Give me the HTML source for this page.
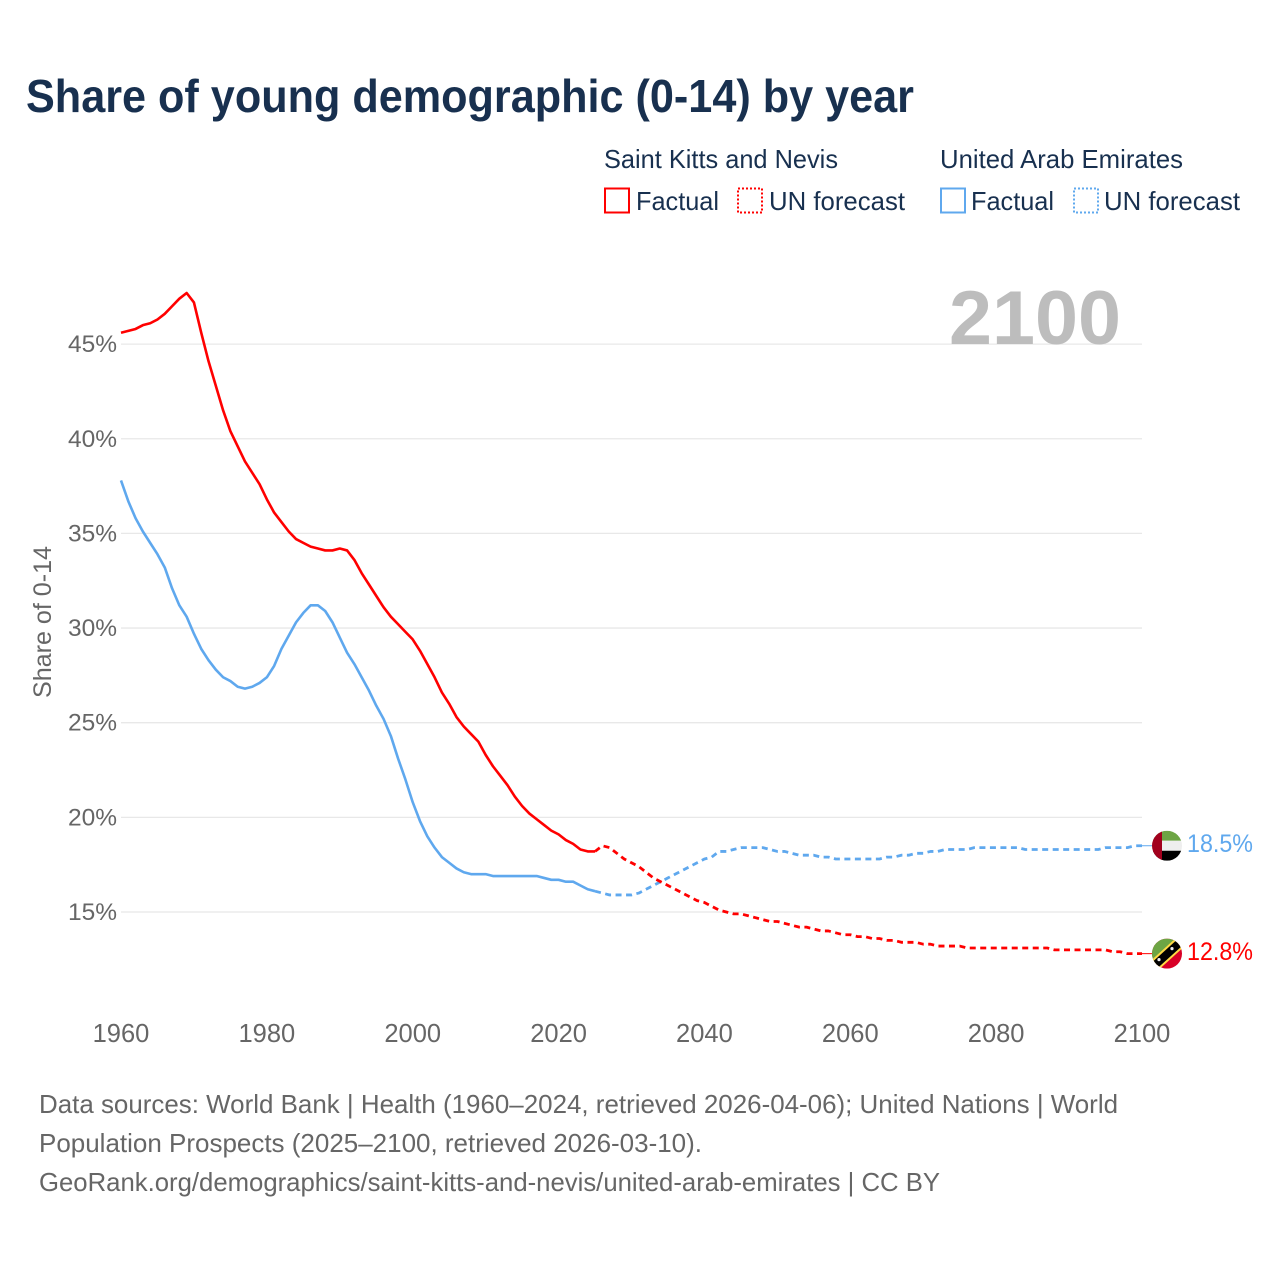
<!DOCTYPE html>
<html lang="en">
<head>
<meta charset="utf-8">
<title>Share of young demographic (0-14) by year</title>
<style>
html,body{margin:0;padding:0;background:#fff;}
svg{display:block;font-family:"Liberation Sans",sans-serif;}
</style>
</head>
<body>
<svg id="chart" width="1280" height="1280" viewBox="0 0 1280 1280" xmlns="http://www.w3.org/2000/svg">
  <defs>
    <clipPath id="flag-clip"><circle cx="0" cy="0" r="15"/></clipPath>
  </defs>
  <rect x="0" y="0" width="1280" height="1280" fill="#fff"/>
  <text x="26" y="112" font-size="46" font-weight="700" fill="#18304f" textLength="888" lengthAdjust="spacingAndGlyphs">Share of young demographic (0-14) by year</text>

  <g fill="#18304f" font-size="26">
    <text x="604" y="168" textLength="234" lengthAdjust="spacingAndGlyphs">Saint Kitts and Nevis</text>
    <text x="940" y="168" textLength="243" lengthAdjust="spacingAndGlyphs">United Arab Emirates</text>
    <rect x="605" y="188.5" width="24" height="24" fill="none" stroke="#ff0000" stroke-width="2"/>
    <text x="636" y="210" textLength="83" lengthAdjust="spacingAndGlyphs">Factual</text>
    <rect x="738" y="188.5" width="24" height="24" fill="none" stroke="#ff0000" stroke-width="2" stroke-dasharray="2 2"/>
    <text x="769" y="210" textLength="136" lengthAdjust="spacingAndGlyphs">UN forecast</text>
    <rect x="941" y="188.5" width="24" height="24" fill="none" stroke="#5fa8ee" stroke-width="2"/>
    <text x="971" y="210" textLength="83" lengthAdjust="spacingAndGlyphs">Factual</text>
    <rect x="1074" y="188.5" width="24" height="24" fill="none" stroke="#5fa8ee" stroke-width="2" stroke-dasharray="2 2"/>
    <text x="1104" y="210" textLength="136" lengthAdjust="spacingAndGlyphs">UN forecast</text>
  </g>

  <text transform="translate(51,622) rotate(-90)" text-anchor="middle" font-size="25" fill="#666" textLength="152" lengthAdjust="spacingAndGlyphs">Share of 0-14</text>

  <g id="grid"></g>
  <g id="y-ticks"></g>
  <g id="x-ticks"></g>

  <text x="949" y="344" font-size="76" font-weight="700" fill="#bdbdbd" textLength="172" lengthAdjust="spacingAndGlyphs">2100</text>

  <g id="series"></g>

  <g id="flag-uae">
    <g clip-path="url(#flag-clip)">
      <rect x="-15" y="-15" width="30" height="10" fill="#6da544"/>
      <rect x="-15" y="-5" width="30" height="10" fill="#eeeeee"/>
      <rect x="-15" y="5" width="30" height="10" fill="#000000"/>
      <rect x="-15" y="-15" width="10" height="30" fill="#a2001d"/>
    </g>
  </g>
  <g id="flag-kn">
    <g clip-path="url(#flag-clip)">
      <rect x="-15" y="-15" width="30" height="30" fill="#d80027"/>
      <polygon points="-15,-15 15,-15 -15,15" fill="#6da544"/>
      <line x1="-16" y1="15" x2="16" y2="-14" stroke="#ffda44" stroke-width="12"/>
      <line x1="-16" y1="15" x2="16" y2="-14" stroke="#000000" stroke-width="8"/>
      <circle cx="-8" cy="6" r="1.6" fill="#eee"/>
      <circle cx="5" cy="-5" r="1.6" fill="#eee"/>
    </g>
  </g>
  <text id="value-uae" x="1187" font-size="25" fill="#5fa8ee" textLength="66" lengthAdjust="spacingAndGlyphs"></text>
  <text id="value-kn" x="1187" font-size="25" fill="#ff0000" textLength="66" lengthAdjust="spacingAndGlyphs"></text>

  <g font-size="26" fill="#666">
    <text x="39" y="1113" textLength="1079" lengthAdjust="spacingAndGlyphs">Data sources: World Bank | Health (1960–2024, retrieved 2026-04-06); United Nations | World</text>
    <text x="39" y="1152" textLength="663" lengthAdjust="spacingAndGlyphs">Population Prospects (2025–2100, retrieved 2026-03-10).</text>
    <text x="39" y="1191" textLength="901" lengthAdjust="spacingAndGlyphs">GeoRank.org/demographics/saint-kitts-and-nevis/united-arab-emirates | CC BY</text>
  </g>
</svg>

<script>
const yTicks = [15, 20, 25, 30, 35, 40, 45];
const xTicks = [1960, 1980, 2000, 2020, 2040, 2060, 2080, 2100];
const factualStartYear = 1960;
const forecastStartYear = 2025;

const redFactual = [
  45.6,45.7,45.8,46.0,46.1,46.3,46.6,47.0,47.4,47.7,
  47.2,45.6,44.1,42.8,41.5,40.4,39.6,38.8,38.2,37.6,
  36.8,36.1,35.6,35.1,34.7,34.5,34.3,34.2,34.1,34.1,
  34.2,34.1,33.6,32.9,32.3,31.7,31.1,30.6,30.2,29.8,
  29.4,28.8,28.1,27.4,26.6,26.0,25.3,24.8,24.4,24.0,
  23.3,22.7,22.2,21.7,21.1,20.6,20.2,19.9,19.6,19.3,
  19.1,18.8,18.6,18.3,18.2,18.2
];
const redForecast = [
  18.2,18.5,18.4,18.1,17.8,
  17.6,17.4,17.1,16.8,16.6,16.4,16.2,16.0,15.8,15.6,
  15.5,15.3,15.1,15.0,14.9,14.9,14.8,14.7,14.6,14.5,
  14.5,14.4,14.3,14.2,14.2,14.1,14.0,14.0,13.9,13.8,
  13.8,13.7,13.7,13.6,13.6,13.5,13.5,13.4,13.4,13.4,
  13.3,13.3,13.2,13.2,13.2,13.2,13.1,13.1,13.1,13.1,
  13.1,13.1,13.1,13.1,13.1,13.1,13.1,13.1,13.0,13.0,
  13.0,13.0,13.0,13.0,13.0,13.0,12.9,12.9,12.8,12.8,
  12.8
];
const blueFactual = [
  37.8,36.7,35.8,35.1,34.5,33.9,33.2,32.1,31.2,30.6,
  29.7,28.9,28.3,27.8,27.4,27.2,26.9,26.8,26.9,27.1,
  27.4,28.0,28.9,29.6,30.3,30.8,31.2,31.2,30.9,30.3,
  29.5,28.7,28.1,27.4,26.7,25.9,25.2,24.3,23.1,22.0,
  20.8,19.8,19.0,18.4,17.9,17.6,17.3,17.1,17.0,17.0,
  17.0,16.9,16.9,16.9,16.9,16.9,16.9,16.9,16.8,16.7,
  16.7,16.6,16.6,16.4,16.2,16.1
];
const blueForecast = [
  16.1,16.0,15.9,15.9,15.9,
  15.9,16.0,16.2,16.4,16.6,16.8,17.0,17.2,17.4,17.6,
  17.8,17.9,18.2,18.2,18.3,18.4,18.4,18.4,18.4,18.3,
  18.2,18.2,18.1,18.0,18.0,18.0,17.9,17.9,17.8,17.8,
  17.8,17.8,17.8,17.8,17.8,17.9,17.9,18.0,18.0,18.1,
  18.1,18.2,18.2,18.3,18.3,18.3,18.3,18.4,18.4,18.4,
  18.4,18.4,18.4,18.4,18.3,18.3,18.3,18.3,18.3,18.3,
  18.3,18.3,18.3,18.3,18.3,18.4,18.4,18.4,18.4,
  18.5,18.5
];

const SVG_NS = 'http://www.w3.org/2000/svg';
function xScale(year) { return 121 + (year - 1960) * (1142 - 121) / 140; }
function yScale(pct) { return 912 - (pct - 15) * 18.93; }

function pathFrom(values, startYear) {
  return values.map(function (v, i) {
    return (i ? 'L' : 'M') + xScale(startYear + i).toFixed(2) + ' ' + yScale(v).toFixed(2);
  }).join(' ');
}

const grid = document.getElementById('grid');
const yGroup = document.getElementById('y-ticks');
const xGroup = document.getElementById('x-ticks');
const series = document.getElementById('series');

yTicks.forEach(function (t) {
  const line = document.createElementNS(SVG_NS, 'line');
  
  
  line.setAttribute('x1', xScale(1960));
  line.setAttribute('x2', xScale(2100));
  line.setAttribute('y1', yScale(t));
  line.setAttribute('y2', yScale(t));
  line.setAttribute('stroke', '#e8e8e8');
  line.setAttribute('stroke-width', '1.3');
  grid.appendChild(line);

  const label = document.createElementNS(SVG_NS, 'text');
  
  
  label.setAttribute('x', 117);
  label.setAttribute('y', yScale(t) + 8);
  label.setAttribute('text-anchor', 'end');
  label.setAttribute('font-size', '24.5');
  label.setAttribute('fill', '#666');
  label.textContent = t + '%';
  yGroup.appendChild(label);
});

xTicks.forEach(function (t) {
  const label = document.createElementNS(SVG_NS, 'text');
  
  
  label.setAttribute('x', xScale(t));
  label.setAttribute('y', 1042);
  label.setAttribute('text-anchor', 'middle');
  label.setAttribute('font-size', '25.5');
  label.setAttribute('fill', '#666');
  label.textContent = t;
  xGroup.appendChild(label);
});

function drawLine(values, startYear, color, dashed, name) {
  const p = document.createElementNS(SVG_NS, 'path');
  
  
  p.setAttribute('d', pathFrom(values, startYear));
  p.setAttribute('fill', 'none');
  p.setAttribute('stroke', color);
  p.setAttribute('stroke-width', dashed ? '2.8' : '2.6');
  p.setAttribute('stroke-linejoin', 'round');
  if (dashed) p.setAttribute('stroke-dasharray', '6 4.5');
  series.appendChild(p);
}

function drawConnector(value, color, name) {
  const c = document.createElementNS(SVG_NS, 'line');
  
  
  c.setAttribute('x1', xScale(2100));
  c.setAttribute('x2', xScale(2100) + 11);
  c.setAttribute('y1', yScale(value));
  c.setAttribute('y2', yScale(value));
  c.setAttribute('stroke', color);
  c.setAttribute('stroke-width', '1');
  series.appendChild(c);
}

drawLine(blueFactual, factualStartYear, '#5fa8ee', false, 'line-uae-factual');
drawLine(blueForecast, forecastStartYear, '#5fa8ee', true, 'line-uae-forecast');
drawLine(redFactual, factualStartYear, '#ff0000', false, 'line-saint-kitts-factual');
drawLine(redForecast, forecastStartYear, '#ff0000', true, 'line-saint-kitts-forecast');

const lastBlue = blueForecast[blueForecast.length - 1];
const lastRed = redForecast[redForecast.length - 1];
drawConnector(lastBlue, '#5fa8ee', 'connector-uae');
drawConnector(lastRed, '#ff0000', 'connector-saint-kitts');

document.getElementById('flag-uae').setAttribute('transform', 'translate(1167,' + yScale(lastBlue) + ')');
document.getElementById('flag-kn').setAttribute('transform', 'translate(1167,' + yScale(lastRed) + ')');

const valueUae = document.getElementById('value-uae');
valueUae.setAttribute('y', yScale(lastBlue) + 6.5);
valueUae.textContent = lastBlue.toFixed(1) + '%';
const valueKn = document.getElementById('value-kn');
valueKn.setAttribute('y', yScale(lastRed) + 6.5);
valueKn.textContent = lastRed.toFixed(1) + '%';
</script>
</body>
</html>
